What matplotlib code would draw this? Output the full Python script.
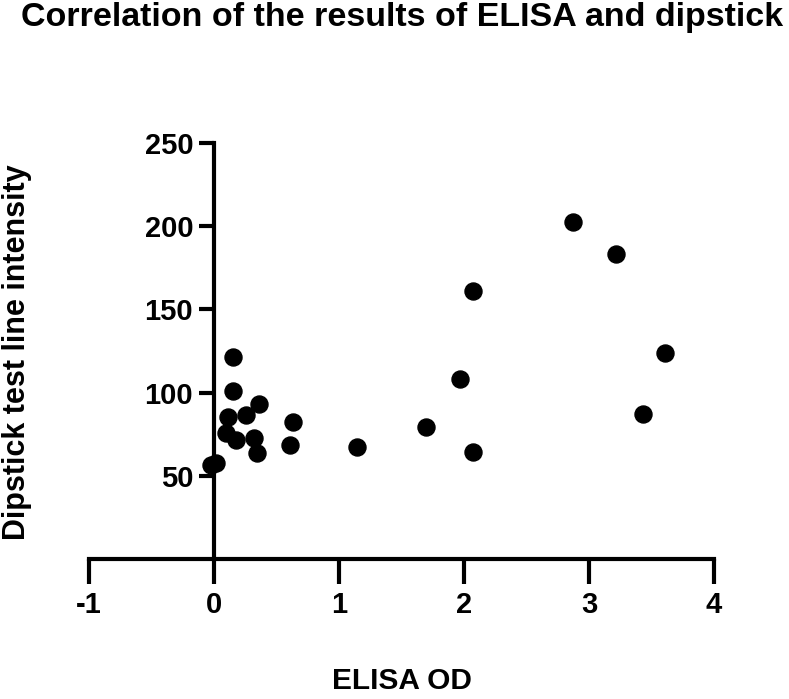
import matplotlib
matplotlib.use("Agg")
import matplotlib.pyplot as plt

elisa_od = [2.874, 3.22, 2.073, 3.606, 1.971, 3.43, 1.693, 2.073,
            0.15, 0.15, 0.363, 0.115, 0.256, 0.10, 0.176, 0.32, 0.342,
            0.016, -0.02, 0.636, 0.61, 1.143]
dipstick = [202.5, 183.2, 161, 124, 108, 87, 79.5, 64.2,
            121.5, 101, 93, 85.5, 86.6, 75.6, 71.6, 72.6, 63.6,
            57.6, 56.5, 82.5, 68.6, 67.6]
x_ticks = [-1, 0, 1, 2, 3, 4]
y_ticks = [50, 100, 150, 200, 250]

plt.rcParams['font.family'] = ['Liberation Sans', 'DejaVu Sans']
plt.rcParams['font.weight'] = 'bold'
plt.rcParams['axes.unicode_minus'] = False

fig = plt.figure(figsize=(7.89, 6.99), dpi=100)
ax = fig.add_axes([0.1128, 0.1999, 0.792, 0.5959])
ax.scatter(elisa_od, dipstick, s=150, color='black', zorder=3, clip_on=False)
ax.set_xlim(-1, 4)
ax.set_ylim(0, 250)
ax.spines['left'].set_position(('data', 0))
ax.spines['bottom'].set_position(('data', 0))
for s in ['top', 'right']:
    ax.spines[s].set_visible(False)
for s in ['left', 'bottom']:
    ax.spines[s].set_linewidth(3)
ax.set_xticks(x_ticks)
ax.set_yticks(y_ticks)
ax.tick_params(axis='x', length=18, width=3, labelsize=21, pad=5)
ax.tick_params(axis='y', length=11, width=3, labelsize=21, pad=4)
for lab in ax.get_xticklabels() + ax.get_yticklabels():
    lab.set_fontweight('bold')

fig.text(0.509, 0.9746, 'Correlation of the results of ELISA and dipstick',
         ha='center', va='center', fontsize=24.5, fontweight='bold')
fig.text(0.5093, 0.006, 'ELISA OD', ha='center', va='bottom', fontsize=21.5, fontweight='bold')
fig.text(0.022, 0.496, 'Dipstick test line intensity', ha='center', va='center',
         rotation=90, fontsize=22, fontweight='bold')

fig.savefig('out.png', dpi=100, facecolor='white')
